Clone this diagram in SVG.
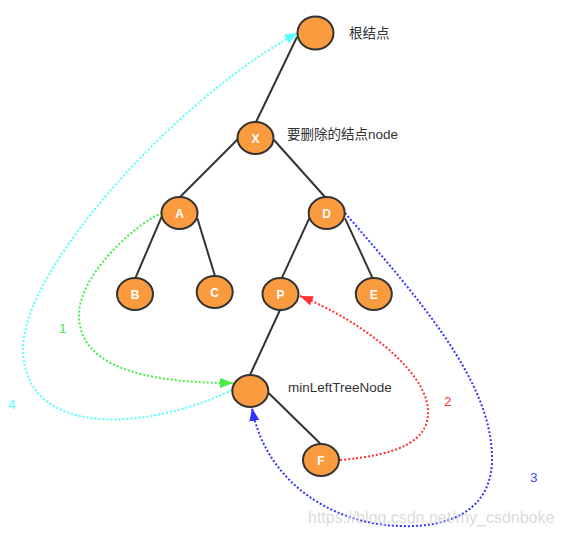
<svg xmlns="http://www.w3.org/2000/svg" width="561" height="537" viewBox="0 0 561 537">
<style>
.e{stroke:#333;stroke-width:2;fill:none}
.n ellipse{fill:#fb9b3f;stroke:#333;stroke-width:2}
.n text{fill:#fff;font-family:"Liberation Sans",Arial,sans-serif;font-weight:bold;font-size:12px;text-anchor:middle}
.d{fill:none;stroke-width:2;stroke-dasharray:2 2}
.lbl{font-family:"Liberation Sans","Noto Sans CJK SC",sans-serif;font-size:13.5px;fill:#333}
.num{font-family:"Liberation Sans",Arial,sans-serif;font-size:13.5px}
</style>
<defs>
<marker id="ag" markerUnits="userSpaceOnUse" markerWidth="14" markerHeight="10" refX="13" refY="5" orient="auto"><path d="M0,0 L13,5 L0,10 z" fill="#44ee44"/></marker>
<marker id="ac" markerUnits="userSpaceOnUse" markerWidth="14" markerHeight="10" refX="13" refY="5" orient="auto"><path d="M0,0 L13,5 L0,10 z" fill="#55ffff"/></marker>
<marker id="ar" markerUnits="userSpaceOnUse" markerWidth="14" markerHeight="10" refX="13" refY="5" orient="auto"><path d="M0,0 L13,5 L0,10 z" fill="#ff3333"/></marker>
<marker id="ab" markerUnits="userSpaceOnUse" markerWidth="14" markerHeight="10" refX="13" refY="5" orient="auto"><path d="M0,0 L13,5 L0,10 z" fill="#3333ff"/></marker>
</defs>
<g id="connectors">
<line class="e" x1="297" y1="37" x2="256" y2="122"/>
<line class="e" x1="238" y1="139" x2="180" y2="197"/>
<line class="e" x1="274" y1="140" x2="325" y2="197"/>
<line class="e" x1="161.7" y1="216.7" x2="135.7" y2="277.3"/>
<line class="e" x1="197.3" y1="218.3" x2="215" y2="276"/>
<line class="e" x1="310" y1="216.7" x2="281.7" y2="278.3"/>
<line class="e" x1="345" y1="218.3" x2="372.7" y2="278.3"/>
<line class="e" x1="280" y1="310" x2="250" y2="375"/>
<line class="e" x1="268.3" y1="392.7" x2="320" y2="443.3"/>
<path class="d" stroke="#44ee44" marker-end="url(#ag)" d="M162,213 C135,224 79,275 79,315 C79,365 140,383 233,383"/>
<path class="d" stroke="#55ffff" marker-end="url(#ac)" d="M232,390 C150,430 25,440 23,350 C21,270 180,95 298,33"/>
<path class="d" stroke="#ff3333" marker-end="url(#ar)" d="M340,460 C400,455 430,440 428,410 C426,370 360,320 300,296"/>
<path class="d" stroke="#3333ff" marker-end="url(#ab)" d="M345,213 C420,300 490,380 492,455 C494,510 450,528 400,526 C330,524 265,480 252,408"/>
</g>
<g id="root" class="n"><ellipse cx="315.5" cy="33" rx="18" ry="16.5"/></g>
<g id="X" class="n"><ellipse cx="255.5" cy="138" rx="18" ry="16"/><text x="255.5" y="142.5">X</text></g>
<g id="A" class="n"><ellipse cx="179.5" cy="213" rx="18" ry="16"/><text x="179.5" y="217.5">A</text></g>
<g id="D" class="n"><ellipse cx="326.7" cy="213" rx="18" ry="16"/><text x="326.7" y="217.5">D</text></g>
<g id="B" class="n"><ellipse cx="135" cy="294" rx="18" ry="16"/><text x="135" y="298.5">B</text></g>
<g id="C" class="n"><ellipse cx="214.7" cy="292" rx="18" ry="16"/><text x="214.7" y="296.5">C</text></g>
<g id="P" class="n"><ellipse cx="280.5" cy="294" rx="18" ry="16"/><text x="280.5" y="298.5">P</text></g>
<g id="E" class="n"><ellipse cx="373.8" cy="294" rx="18" ry="16"/><text x="373.8" y="298.5">E</text></g>
<g id="minLeftTreeNode" class="n"><ellipse cx="250.3" cy="391" rx="18" ry="16"/></g>
<g id="F" class="n"><ellipse cx="321" cy="460" rx="18" ry="16"/><text x="321" y="464.5">F</text></g>
<g id="labels">
<text class="lbl" x="349" y="38">根结点</text>
<text class="lbl" x="287" y="139">要删除的结点node</text>
<text class="lbl" x="288" y="392">minLeftTreeNode</text>
<text class="num" x="59" y="333" fill="#55e055">1</text>
<text class="num" x="8" y="409" fill="#55ffff">4</text>
<text class="num" x="444" y="406" fill="#ff3333">2</text>
<text class="num" x="530" y="482" fill="#4444ff">3</text>
<text x="308" y="523" font-family="Liberation Sans,Arial,sans-serif" font-size="16" fill="#d4d4d4" fill-opacity="0.85">https://blog.csdn.net/my_csdnboke</text>
</g>
</svg>
